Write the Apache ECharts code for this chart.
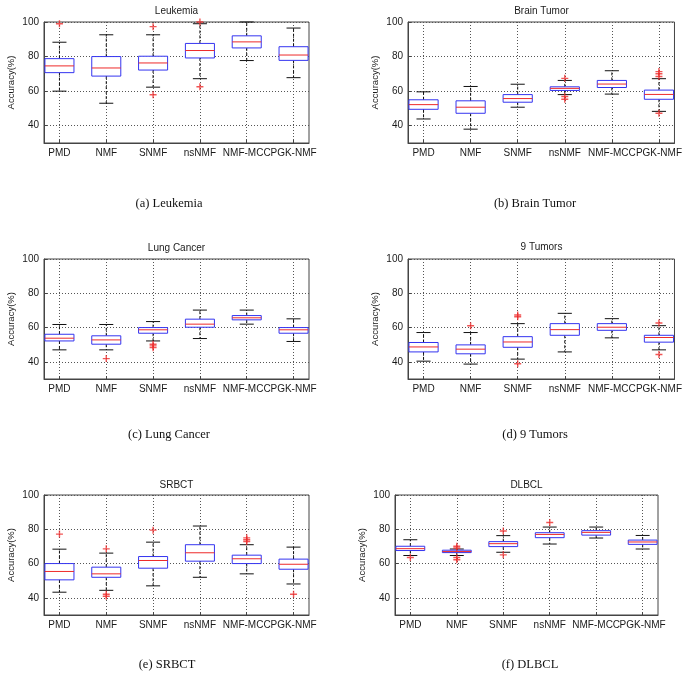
<!DOCTYPE html>
<html>
<head>
<meta charset="utf-8">
<script src="https://cdn.jsdelivr.net/npm/echarts@6/dist/echarts.min.js"></script>
<style>
  html, body { margin: 0; padding: 0; background: #fff; }
  #main { width: 685px; height: 690px; }
</style>
</head>
<body>
<div id="main"></div>
<script>
// categories (methods)
var categories = ['PMD', 'NMF', 'SNMF', 'nsNMF', 'NMF-MCC', 'PGK-NMF'];
var panelTitles = ['Leukemia', 'Brain Tumor', 'Lung Cancer', '9 Tumors', 'SRBCT', 'DLBCL'];
var captions = ['(a) Leukemia', '(b) Brain Tumor', '(c) Lung Cancer', '(d) 9 Tumors', '(e) SRBCT', '(f) DLBCL'];
var yTicks = [40, 60, 80, 100];

// box stats per method: [min, Q1, median, Q3, max]
var leukemiaBox = [
  [60, 70.7, 74.6, 78.8, 88.3],
  [53, 68.7, 73.4, 80, 92.6],
  [62.3, 72.2, 76.3, 80.2, 92.6],
  [67.2, 79.2, 83.5, 87.6, 99],
  [77.7, 85, 88.5, 92, 100],
  [67.8, 77.8, 80.9, 85.7, 96.5]
];
// outliers: [method index, value]
var leukemiaOut = [[0, 99], [2, 97.3], [2, 57.9], [3, 100], [3, 62.5]];

var brainBox = [
  [43.9, 49.5, 52.2, 55, 59.6],
  [38, 47.2, 50.7, 54.4, 62.7],
  [50.7, 53.6, 55.7, 58, 64],
  [58, 60.4, 61.6, 62.5, 66.2],
  [58.3, 62.1, 64.1, 66.2, 71.8],
  [48.3, 55.3, 58.1, 60.6, 67.2]
];
var brainOut = [[3, 67.4], [3, 56.9], [3, 55.3], [5, 71.3], [5, 70.1], [5, 68.5], [5, 47.2]];

var lungBox = [
  [47, 52.2, 53.8, 56.1, 61.8],
  [47, 50.3, 52.8, 55.2, 61.8],
  [52.2, 56.7, 58.7, 60, 63.5],
  [53.6, 60.2, 62, 64.9, 70.2],
  [62, 64.5, 65.7, 67, 70.2],
  [51.9, 56.7, 58.7, 60, 65.1]
];
var lungOut = [[1, 41.9], [2, 50.3], [2, 49.3], [2, 48.3]];

var tumors9Box = [
  [40.4, 45.8, 48.7, 51.3, 57.1],
  [38.7, 44.7, 47.4, 49.9, 57.1],
  [41.6, 48.5, 51.6, 54.7, 62.3],
  [45.8, 55.5, 58.8, 62.3, 68.3],
  [54, 58.4, 60.2, 62.3, 65.2],
  [47, 51.5, 54.2, 55.5, 61.1]
];
var tumors9Out = [[1, 61.1], [2, 67.3], [2, 66.3], [2, 38.9], [5, 62.7], [5, 44.3]];

var srbctBox = [
  [43.3, 50.5, 55.4, 60, 68.4],
  [44.4, 52, 54, 57.9, 66.1],
  [47, 57.3, 61.8, 64.1, 72.5],
  [52, 61.4, 66.3, 71, 81.9],
  [54, 60, 62.8, 64.9, 71],
  [48.1, 56.7, 59.6, 62.6, 69.6]
];
var srbctOut = [[0, 77.2], [1, 68.6], [1, 42.1], [1, 40.9], [2, 79.5], [4, 75], [4, 73.9], [4, 72.9], [5, 42.1]];

var dlbclBox = [
  [64.7, 67.6, 68.7, 70.1, 73.9],
  [64.7, 66.4, 67, 67.8, 68.5],
  [66.6, 69.9, 71.6, 72.8, 76.3],
  [71.4, 75.1, 77, 78, 81.3],
  [74.9, 76.6, 78.2, 79.2, 81.3],
  [68.5, 71.2, 72.6, 73.7, 76.4]
];
var dlbclOut = [[0, 63.5], [1, 70.1], [1, 69.1], [1, 63.5], [1, 62.2], [2, 79], [2, 65.1], [3, 84]];

var allBoxes = [leukemiaBox, brainBox, lungBox, tumors9Box, srbctBox, dlbclBox];
var allOut = [leukemiaOut, brainOut, lungOut, tumors9Out, srbctOut, dlbclOut];

// layout of the six axes boxes
var grids = [
  {left: 44, top: 22, width: 265, height: 121},
  {left: 408, top: 22, width: 267, height: 121},
  {left: 44, top: 259, width: 265, height: 120},
  {left: 408, top: 259, width: 267, height: 120},
  {left: 44, top: 495, width: 265, height: 120},
  {left: 395, top: 495, width: 263, height: 120}
];
var titleY = [11, 11, 248, 247, 485, 485];
var captionPos = [[169, 204], [535, 204], [169, 435], [535, 435], [167, 665], [530, 665]];

var BOX_HALF = 0.31, CAP_HALF = 0.15;
var blue = '#3434f0', red = '#ee2a2a';
var txt = '#1a1a1a';
var labelFont = 'Liberation Sans, Arial, sans-serif';

function renderBox(params, api) {
  var x = api.value(0);
  var pMin = api.coord([x, api.value(1)]);
  var pQ1 = api.coord([x, api.value(2)]);
  var pMed = api.coord([x, api.value(3)]);
  var pQ3 = api.coord([x, api.value(4)]);
  var pMax = api.coord([x, api.value(5)]);
  var hw = api.size([BOX_HALF, 0])[0];
  var cw = api.size([CAP_HALF, 0])[0];
  var cx = pMed[0];
  var dash = {stroke: '#111', lineWidth: 1, lineDash: [3, 2]};
  var solid = {stroke: '#111', lineWidth: 1};
  return {
    type: 'group',
    children: [
      {type: 'line', shape: {x1: cx, y1: pQ3[1], x2: cx, y2: pMax[1]}, style: dash},
      {type: 'line', shape: {x1: cx, y1: pQ1[1], x2: cx, y2: pMin[1]}, style: dash},
      {type: 'line', shape: {x1: cx - cw, y1: pMax[1], x2: cx + cw, y2: pMax[1]}, style: solid},
      {type: 'line', shape: {x1: cx - cw, y1: pMin[1], x2: cx + cw, y2: pMin[1]}, style: solid},
      {type: 'rect', shape: {x: cx - hw, y: pQ3[1], width: hw * 2, height: pQ1[1] - pQ3[1]},
        style: {fill: '#fff', stroke: blue, lineWidth: 1}},
      {type: 'line', shape: {x1: cx - hw, y1: pMed[1], x2: cx + hw, y2: pMed[1]}, style: {stroke: red, lineWidth: 1}}
    ]
  };
}

function catLabel(v) { return categories[Math.round(v) - 1]; }

var myChart = echarts.init(document.getElementById('main'), null, {renderer: 'canvas'});

var option = {
  backgroundColor: '#fff',
  animation: false,
  grid: [],
  xAxis: [],
  yAxis: [],
  series: [],
  graphic: []
};

var extraAxes = [];
for (var i = 0; i < 6; i++) {
  var g = grids[i];
  option.grid.push({
    left: g.left, top: g.top, width: g.width, height: g.height,
    show: true, borderColor: '#444', borderWidth: 1, backgroundColor: '#fff'
  });
  // main x axis: ticks, grid lines, labels for methods 1..5
  option.xAxis.push({
    type: 'value', gridIndex: i, min: 0.67, max: 6.33, position: 'bottom',
    axisLine: {show: true, onZero: false, lineStyle: {color: '#444'}},
    axisTick: {show: true, inside: true, length: 3, customValues: [1, 2, 3, 4, 5, 6], lineStyle: {color: '#444'}},
    axisLabel: {
      customValues: [1, 2, 3, 4, 5], margin: 5, color: txt, fontSize: 10,
      hideOverlap: false, showMinLabel: true, showMaxLabel: true,
      fontFamily: labelFont, formatter: catLabel
    },
    splitLine: {show: true, lineStyle: {color: '#555', type: [1, 2], width: 1}}
  });
  // second bottom axis only carrying the last label (it overlaps its neighbour, as in the original)
  extraAxes.push({
    type: 'value', gridIndex: i, min: 0.67, max: 6.33, position: 'bottom', offset: 0,
    axisLine: {show: false, onZero: false},
    axisTick: {show: false},
    splitLine: {show: false},
    axisLabel: {
      customValues: [6], margin: 5, color: txt, fontSize: 10,
      showMinLabel: true, showMaxLabel: true,
      fontFamily: labelFont, formatter: catLabel
    }
  });
  option.yAxis.push({
    type: 'value', gridIndex: i, min: 30, max: 100,
    name: 'Accuracy(%)', nameLocation: 'middle', nameGap: 28,
    nameTextStyle: {color: txt, fontSize: 9.5, fontFamily: labelFont},
    axisLine: {show: true, lineStyle: {color: '#444'}},
    axisTick: {show: true, inside: true, length: 3, customValues: yTicks, lineStyle: {color: '#444'}},
    axisLabel: {customValues: yTicks, margin: 5, color: txt, fontSize: 10,
      showMinLabel: true, showMaxLabel: true, fontFamily: labelFont},
    splitLine: {show: true, lineStyle: {color: '#555', type: [1, 2], width: 1}}
  });

  var boxData = allBoxes[i].map(function (b, k) {
    return [k + 1, b[0], b[1], b[2], b[3], b[4]];
  });
  option.series.push({
    type: 'custom', xAxisIndex: i, yAxisIndex: i,
    renderItem: renderBox,
    encode: {x: 0, y: [1, 2, 3, 4, 5]},
    data: boxData,
    z: 3
  });
  option.series.push({
    type: 'scatter', xAxisIndex: i, yAxisIndex: i,
    symbol: 'path://M4,0H6V4H10V6H6V10H4V6H0V4H4Z',
    symbolSize: 7,
    itemStyle: {color: red},
    data: allOut[i].map(function (o) { return [o[0] + 1, o[1]]; }),
    z: 4
  });

  option.graphic.push({
    type: 'text', x: g.left + g.width / 2, y: titleY[i],
    style: {text: panelTitles[i], fill: txt, align: 'center', verticalAlign: 'middle',
      textAlign: 'center', textVerticalAlign: 'middle',
      font: '10px "Liberation Sans", Arial, sans-serif'}
  });
  option.graphic.push({
    type: 'text', x: captionPos[i][0], y: captionPos[i][1],
    style: {text: captions[i], fill: '#111', align: 'center', verticalAlign: 'middle',
      textAlign: 'center', textVerticalAlign: 'middle',
      font: '12.5px "Liberation Serif", "DejaVu Serif", serif'}
  });
}
option.xAxis = option.xAxis.concat(extraAxes);

myChart.setOption(option);
</script>
</body>
</html>
